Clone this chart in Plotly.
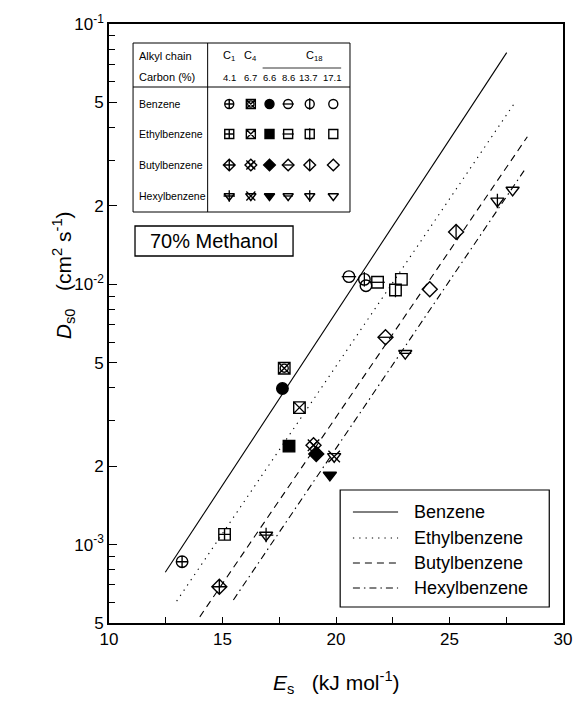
import plotly.graph_objects as go

# ---------------- data ----------------
series = ["Benzene", "Ethylbenzene", "Butylbenzene", "Hexylbenzene"]
alkyl_chain = ["C<sub>1</sub>", "C<sub>4</sub>", "C<sub>18</sub>"]
carbon_pct = ["4.1", "6.7", "6.6", "8.6", "13.7", "17.1"]

# Es (kJ/mol) and Ds0 (cm2/s) per phase (order = carbon_pct columns)
es_benzene = [13.22, 17.72, 17.64, 20.57, 21.25, 21.32]
ds_benzene = [8.6e-4, 4.76e-3, 3.98e-3, 1.07e-2, 1.045e-2, 9.88e-3]
es_ethyl = [15.09, 18.39, 17.93, 21.83, 22.62, 22.88]
ds_ethyl = [1.095e-3, 3.36e-3, 2.39e-3, 1.018e-2, 9.51e-3, 1.045e-2]
es_butyl = [14.86, 19.01, 19.13, 22.18, 25.29, 24.13]
ds_butyl = [6.89e-4, 2.41e-3, 2.23e-3, 6.26e-3, 1.59e-2, 9.57e-3]
es_hexyl = [16.92, 19.92, 19.73, 23.05, 27.11, 27.78]
ds_hexyl = [1.088e-3, 2.18e-3, 1.85e-3, 5.43e-3, 2.09e-2, 2.30e-2]

# regression lines (end points)
fit_x_benzene = [12.48, 27.52]
fit_y_benzene = [7.83e-4, 7.76e-2]
fit_x_ethyl = [12.98, 27.88]
fit_y_ethyl = [6.07e-4, 4.99e-2]
fit_x_butyl = [14.00, 28.43]
fit_y_butyl = [5.28e-4, 3.69e-2]
fit_x_hexyl = [15.48, 28.38]
fit_y_hexyl = [6.13e-4, 2.81e-2]

x_ticks = [10, 15, 20, 25, 30]
y_tickvals = [5e-4, 1e-3, 2e-3, 5e-3, 1e-2, 2e-2, 5e-2, 1e-1]
y_ticktext = ["5", "10<sup>-3</sup>", "2", "5", "10<sup>-2</sup>", "2", "5", "10<sup>-1</sup>"]

# ---------------- styles ----------------
FONT = "Liberation Sans, Arial, sans-serif"
es_all = [es_benzene, es_ethyl, es_butyl, es_hexyl]
ds_all = [ds_benzene, ds_ethyl, ds_butyl, ds_hexyl]
fits = [(fit_x_benzene, fit_y_benzene), (fit_x_ethyl, fit_y_ethyl),
        (fit_x_butyl, fit_y_butyl), (fit_x_hexyl, fit_y_hexyl)]
dashes = ["solid", "1.3px,5px", "7px,5px", "7px,4px,1.5px,4px"]

base = ["circle", "square", "diamond", "triangle-down"]
# per column: (base symbol variant, overlay symbol, overlay size factor)
def symbol_spec(i, j):
    b = base[i]
    if j == 0:
        if b == "triangle-down":
            return ("triangle-down-open", "cross-thin-open", 0.9)
        return (b + "-cross-open", None, 0)
    if j == 1:
        if b == "circle":
            return ("square-x-open", "circle-open", 0.7)
        if b == "square":
            return ("square-x-open", None, 0)
        if b == "diamond":
            return ("diamond-x-open", "x-thin-open", 1.0)
        return ("triangle-down-open", "x-thin-open", 1.0)
    if j == 2:
        return (b, None, 0)
    if j == 3:
        return (b + "-open", "line-ew-open", 0.9 if b != "triangle-down" else 0.75)
    if j == 4:
        return (b + "-open", "line-ns-open", 0.9)
    return (b + "-open", None, 0)

fig = go.Figure()

# regression lines
for i, (fx, fy) in enumerate(fits):
    fig.add_trace(go.Scatter(x=fx, y=fy, mode="lines", name=series[i],
                             line=dict(color="black", width=1.1, dash=dashes[i]),
                             showlegend=False, hoverinfo="skip"))

def add_marker(x, y, i, j, size, xaxis="x", yaxis="y"):
    sym, over, f = symbol_spec(i, j)
    fig.add_trace(go.Scatter(
        x=x, y=y, mode="markers", xaxis=xaxis, yaxis=yaxis, showlegend=False,
        marker=dict(symbol=sym, size=size, color="black",
                    line=dict(color="black", width=1.4)),
        cliponaxis=False))
    if over:
        fig.add_trace(go.Scatter(
            x=x, y=y, mode="markers", xaxis=xaxis, yaxis=yaxis, showlegend=False,
            marker=dict(symbol=over, size=size * f, color="black",
                        line=dict(color="black", width=1.3)),
            cliponaxis=False))

# data points
for i in range(4):
    for j in range(6):
        add_marker([es_all[i][j]], [ds_all[i][j]], i, j, 11.5)

# ---------------- overlay pixel axes for annotation table ----------------
L, R, T, B = 108.5, 571.0, 24.0, 623.0
col_x = [231, 253, 272, 291, 313, 337]
row_y = [104, 134, 165, 196]
for i in range(4):
    for j in range(6):
        add_marker([col_x[j]], [row_y[i]], i, j, 9, "x2", "y2")

shapes = []
def rect(x0, y0, x1, y1, w=1.0):
    shapes.append(dict(type="rect", xref="x2", yref="y2", x0=x0, y0=y0, x1=x1, y1=y1,
                       line=dict(color="black", width=w), layer="below"))
def seg(x0, y0, x1, y1, w=1.0, dash="solid"):
    shapes.append(dict(type="line", xref="x2", yref="y2", x0=x0, y0=y0, x1=x1, y1=y1,
                       line=dict(color="black", width=w, dash=dash)))

# table
rect(133, 43, 354, 212)
seg(209, 43, 209, 212)
seg(133, 87, 354, 87)
seg(265, 68, 345, 68, 0.8)
# methanol box
rect(135, 226, 296, 256, 1.3)
# line legend
rect(344, 490, 557, 607, 1.2)
leg_y = [512, 538, 563, 588]
for i in range(4):
    seg(357, leg_y[i], 403, leg_y[i], 1.0, dashes[i])

ann = []
def txt(x, y, s, size=10.5, xanchor="left", ref="x2"):
    ann.append(dict(x=x, y=y, xref=ref, yref="y2", text=s, showarrow=False,
                    xanchor=xanchor, yanchor="middle",
                    font=dict(family=FONT, size=size, color="black")))

txt(137, 56, "Alkyl chain", 11)
txt(137, 77, "Carbon (%)", 11)
txt(col_x[0], 56, alkyl_chain[0], 11, "center")
txt(col_x[1], 56, alkyl_chain[1], 11, "center")
txt(318, 56, alkyl_chain[2], 11, "center")
num_x = [231, 253, 272, 291, 312, 336]
for j in range(6):
    txt(num_x[j], 77, carbon_pct[j], 9.5, "center")
for i in range(4):
    txt(137, row_y[i], series[i], 10.5)
txt(215.5, 241, "70% Methanol", 20, "center")
for i in range(4):
    txt(417, leg_y[i], series[i], 18)

# axis titles
ann.append(dict(x=0.5, y=-0.1, xref="paper", yref="paper", showarrow=False,
                text="<i>E</i><sub>s</sub>   (kJ mol<sup>-1</sup>)", xanchor="center",
                yanchor="middle", font=dict(family=FONT, size=21, color="black")))
ann.append(dict(x=-0.1, y=0.58, xref="paper", yref="paper", showarrow=False,
                text="<i>D</i><sub>s0</sub>   (cm<sup>2</sup> s<sup>-1</sup>)", textangle=-90,
                xanchor="center", yanchor="middle",
                font=dict(family=FONT, size=21, color="black")))

y_minor = []
for d in [1e-4, 1e-3, 1e-2]:
    for k in range(2, 10):
        v = k * d
        if 5e-4 <= v <= 1e-1 and k not in (2, 5) and not (d == 1e-4 and k == 5):
            y_minor.append(v)

fig.update_layout(
    width=584, height=704,
    margin=dict(l=L, r=584 - R, t=T, b=704 - B),
    paper_bgcolor="white", plot_bgcolor="white",
    showlegend=False,
    font=dict(family=FONT, color="black"),
    xaxis=dict(range=[10, 30], tickvals=x_ticks, ticks="inside", ticklen=6, tickwidth=1.2,
               tickcolor="black",
               minor=dict(tickvals=[12.5, 17.5, 22.5, 27.5], ticks="inside", ticklen=6,
                          tickwidth=1.2, tickcolor="black"),
               showline=True, linecolor="black", linewidth=1.6, mirror=True,
               showgrid=False, zeroline=False, tickfont=dict(size=17, family=FONT)),
    yaxis=dict(type="log", range=[-3.30103, -1], tickvals=y_tickvals, ticktext=y_ticktext,
               ticks="inside", ticklen=8, tickwidth=1.2, tickcolor="black",
               minor=dict(tickvals=y_minor, ticks="inside", ticklen=6, tickwidth=1.2,
                          tickcolor="black"),
               showline=True, linecolor="black", linewidth=1.6, mirror=True,
               showgrid=False, zeroline=False, tickfont=dict(size=17, family=FONT)),
    xaxis2=dict(range=[L, R], overlaying="x", anchor="y2", visible=False, fixedrange=True),
    yaxis2=dict(range=[B, T], overlaying="y", anchor="x2", visible=False, fixedrange=True),
    shapes=shapes, annotations=ann,
)

fig.write_html("out.html")
